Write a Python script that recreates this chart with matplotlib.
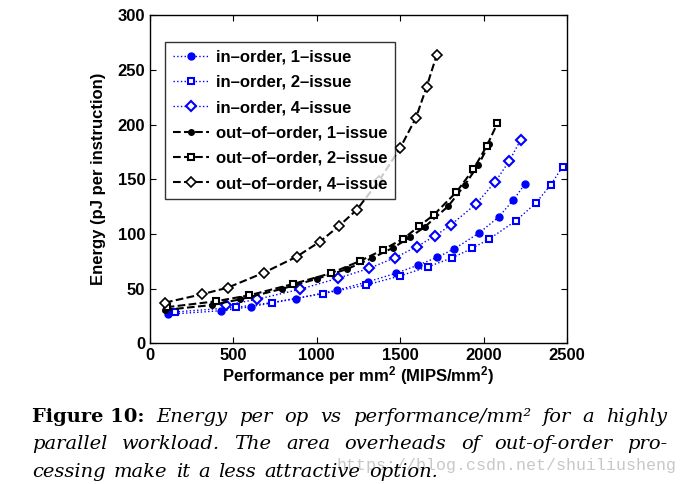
import matplotlib
matplotlib.use('Agg')
import matplotlib.pyplot as plt

# in-order cores (blue, dotted)
io1_x = [106, 426, 606, 873, 1119, 1309, 1473, 1609, 1723, 1823, 1974, 2092, 2178, 2248]
io1_y = [26.5, 29.8, 33.5, 40.8, 48.5, 56.4, 64.0, 71.6, 78.7, 86.3, 101.0, 115.8, 131.0, 145.7]
io2_x = [150, 516, 729, 1035, 1295, 1499, 1669, 1813, 1932, 2034, 2192, 2312, 2402, 2474]
io2_y = [28.6, 32.9, 37.2, 45.4, 53.3, 61.6, 70.1, 78.3, 86.9, 95.4, 111.9, 128.1, 144.8, 161.6]
io4_x = [454, 640, 899, 1129, 1315, 1469, 1599, 1709, 1803, 1953, 2068, 2154, 2222]
io4_y = [34.8, 40.2, 49.4, 59.6, 68.6, 78.3, 88.4, 98.2, 108.2, 127.2, 147.3, 166.8, 186.0]

# out-of-order cores (black, dashed)
oo1_x = [90, 370, 540, 789, 1003, 1183, 1329, 1459, 1559, 1649, 1789, 1888, 1968, 2034]
oo1_y = [30.5, 35.0, 40.2, 49.7, 59.1, 68.0, 77.8, 87.5, 97.0, 106.7, 125.6, 145.0, 163.0, 182.3]
oo2_x = [100, 394, 595, 859, 1083, 1259, 1395, 1519, 1615, 1703, 1837, 1939, 2019, 2083]
oo2_y = [33.0, 38.4, 43.9, 54.3, 64.0, 75.3, 85.4, 95.7, 107.3, 117.7, 138.3, 159.2, 180.5, 201.3]
oo4_x = [90, 310, 466, 683, 879, 1019, 1133, 1239, 1370, 1499, 1595, 1659, 1719]
oo4_y = [37.2, 44.8, 50.9, 64.6, 79.2, 93.0, 107.3, 122.0, 148.0, 178.4, 206.4, 234.8, 263.8]

labels = ['in\u2013order, 1\u2013issue', 'in\u2013order, 2\u2013issue', 'in\u2013order, 4\u2013issue',
          'out\u2013of\u2013order, 1\u2013issue', 'out\u2013of\u2013order, 2\u2013issue',
          'out\u2013of\u2013order, 4\u2013issue']

plt.rcParams['font.family'] = ['Liberation Sans', 'DejaVu Sans']
plt.rcParams['font.weight'] = 'bold'
plt.rcParams['mathtext.fontset'] = 'custom'
plt.rcParams['mathtext.rm'] = 'Liberation Sans:bold'
plt.rcParams['mathtext.it'] = 'Liberation Sans:bold'
plt.rcParams['mathtext.bf'] = 'Liberation Sans:bold'

W, H = 685, 484
fig = plt.figure(figsize=(W / 100, H / 100), dpi=100)
ax = fig.add_axes([150 / W, (H - 343.3) / H, 417 / W, 328 / H])

blue = '#0000ff'
ax.plot(io1_x, io1_y, ':', color=blue, lw=1, marker='o', ms=5, mfc=blue, mec=blue, label=labels[0])
ax.plot(io2_x, io2_y, ':', color=blue, lw=1, marker='s', ms=5, mfc='white', mec=blue, mew=1.5, label=labels[1])
ax.plot(io4_x, io4_y, ':', color=blue, lw=1, marker='D', ms=5, mfc='white', mec=blue, mew=1.5, label=labels[2])
ax.plot(oo1_x, oo1_y, '--', color='black', lw=1.5, marker='o', ms=4, mfc='black', mec='black', label=labels[3])
ax.plot(oo2_x, oo2_y, '--', color='black', lw=1.5, marker='s', ms=5, mfc='white', mec='black', mew=1.5, label=labels[4])
ax.plot(oo4_x, oo4_y, '--', color='black', lw=1.5, marker='D', ms=5, mfc='white', mec='black', mew=1.2, label=labels[5])

ax.set_xlim(0, 2500)
ax.set_ylim(0, 300)
ax.set_xticks([0, 500, 1000, 1500, 2000, 2500])
ax.set_yticks([0, 50, 100, 150, 200, 250, 300])
ax.tick_params(direction='in', top=True, right=True, labelsize=12, length=4, width=0.8)
for s in ax.spines.values():
    s.set_linewidth(1)
ax.set_xlabel(r'Performance per mm$^{2}$ (MIPS/mm$^{2}$)', fontsize=12, fontweight='bold', labelpad=1)
ax.set_ylabel('Energy (pJ per instruction)', fontsize=12, fontweight='bold', labelpad=8)

leg = ax.legend(loc='upper left', bbox_to_anchor=(0.036, 0.9186), borderaxespad=0,
                fontsize=12, frameon=True, fancybox=False, edgecolor='black',
                handlelength=2.2, labelspacing=0.62, borderpad=0.45, handletextpad=0.4)
leg.get_frame().set_linewidth(1)
leg.set_zorder(5)

# caption, justified word by word
renderer = fig.canvas.get_renderer()
cap_fs = 14
ser = ['DejaVu Serif']


def put_line(words, y, x0, x1, justify=True):
    ts = []
    for w, wt in words:
        t = fig.text(0, (H - y) / H, w, fontsize=cap_fs, family=ser,
                     style='normal' if wt == 'bold' else 'italic', fontweight=wt, va='baseline')
        ts.append(t)
    widths = [t.get_window_extent(renderer).width for t in ts]
    if justify:
        gap = (x1 - x0 - sum(widths)) / (len(ts) - 1)
    else:
        gap = cap_fs * 0.6
    x = x0
    for t, wd in zip(ts, widths):
        t.set_x(x / W)
        x += wd + gap


line1 = [('Figure 10:', 'bold')] + [(w, 'normal') for w in
         'Energy per op vs performance/mm\u00b2 for a highly'.split()]
line2 = [(w, 'normal') for w in 'parallel workload.  The area overheads of out-of-order pro-'.split()]
line3 = [(w, 'normal') for w in 'cessing make it a less attractive option.'.split()]
put_line(line1, 422, 32, 667)
put_line(line2, 449, 32, 667)
put_line(line3, 477, 32, 667, justify=False)

# watermark sits behind the last caption line, as in the source image
fig.text(336 / W, (H - 470) / H, 'https://blog.csdn.net/shuiliusheng', fontsize=12,
         family=['Liberation Mono', 'DejaVu Sans Mono'], fontweight='normal',
         color='#c8c8c8', va='baseline', zorder=-1)

fig.savefig('out.png', dpi=100)
